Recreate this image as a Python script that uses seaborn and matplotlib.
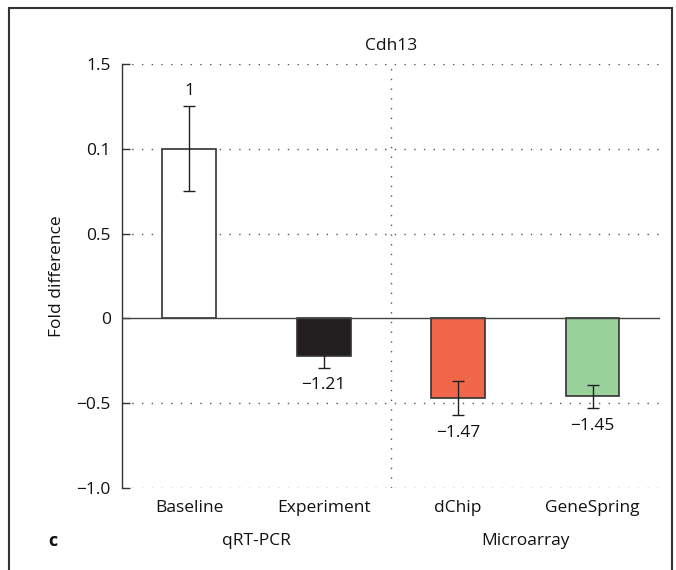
import seaborn as sns
import matplotlib.pyplot as plt
import matplotlib.patches as patches
import pandas as pd

# data
categories = ['Baseline', 'Experiment', 'dChip', 'GeneSpring']
values = [1.0, -0.22, -0.47, -0.46]
errors = [0.25, 0.07, 0.10, 0.07]
bar_labels = ['1', '\u22121.21', '\u22121.47', '\u22121.45']
colors = ['#ffffff', '#231f20', '#f26649', '#98d19a']
groups = ['qRT-PCR', 'Microarray']
yticks = [-1.0, -0.5, 0, 0.5, 1.0, 1.5]
ytick_labels = ['\u22121.0', '\u22120.5', '0', '0.5', '0.1', '1.5']

df = pd.DataFrame({'method': categories, 'fold': values})

sns.set_style('white')
plt.rcParams['font.family'] = ['Open Sans', 'DejaVu Sans']
plt.rcParams['text.color'] = '#111111'
plt.rcParams['xtick.color'] = '#111111'
plt.rcParams['ytick.color'] = '#111111'
plt.rcParams['axes.labelcolor'] = '#111111'

fs = 12.5

fig = plt.figure(figsize=(6.76, 5.70), dpi=100)
ax = fig.add_axes([0.1805, 0.1439, 0.7955, 0.7438])

# dotted grid lines behind bars
for t in yticks:
    if t != 0:
        ax.axhline(t, color='#555555', lw=1, ls=(0, (1, 6)), zorder=0)
ax.axvline(1.5, color='#555555', lw=1, ls=(0, (1, 6)), zorder=0)

sns.barplot(data=df, x='method', y='fold', hue='method', palette=colors,
            legend=False, errorbar=None, width=0.4, edgecolor='#333333',
            linewidth=1.2, saturation=1, ax=ax, zorder=2)

ax.axhline(0, color='#444444', lw=1, zorder=3)

ax.errorbar(range(len(categories)), values, yerr=errors, fmt='none',
            ecolor='#231f20', elinewidth=1, capsize=4, capthick=1, zorder=4)

for i, (v, e, lab) in enumerate(zip(values, errors, bar_labels)):
    if v > 0:
        ax.text(i, v + e + 0.09, lab, ha='center', va='center', fontsize=fs)
    else:
        ax.text(i, v - e - 0.105, lab, ha='center', va='center', fontsize=fs)

ax.set_xlim(-0.5, 3.5)
ax.set_ylim(-1.0, 1.5)
ax.set_yticks(yticks)
ax.set_yticklabels(ytick_labels, fontsize=fs)
ax.tick_params(axis='y', direction='in', length=6, width=1, color='#333333',
               left=True, pad=8)
ax.tick_params(axis='x', length=0, pad=9, labelsize=fs)
ax.set_xlabel('')
ax.set_ylabel('Fold difference', fontsize=fs, labelpad=8)
for s in ['top', 'right', 'bottom']:
    ax.spines[s].set_visible(False)
ax.spines['left'].set_color('#333333')
ax.spines['left'].set_linewidth(1)

ax.set_title('Cdh13', fontsize=fs, pad=10)

# group labels below the categories
ax.text(0.5, -1.31, groups[0], ha='center', va='center', fontsize=fs)
ax.text(2.5, -1.31, groups[1], ha='center', va='center', fontsize=fs)
fig.text(48 / 676, 1 - 541 / 570, 'c', ha='left', va='center',
         fontsize=13, fontweight='bold')

# panel frame
frame = patches.Rectangle((9 / 676, -0.02), 663 / 676, 1.02 - 8 / 570,
                          transform=fig.transFigure, fill=False,
                          edgecolor='#333333', lw=1.5)
fig.patches.append(frame)

fig.savefig('out.png', dpi=100)
